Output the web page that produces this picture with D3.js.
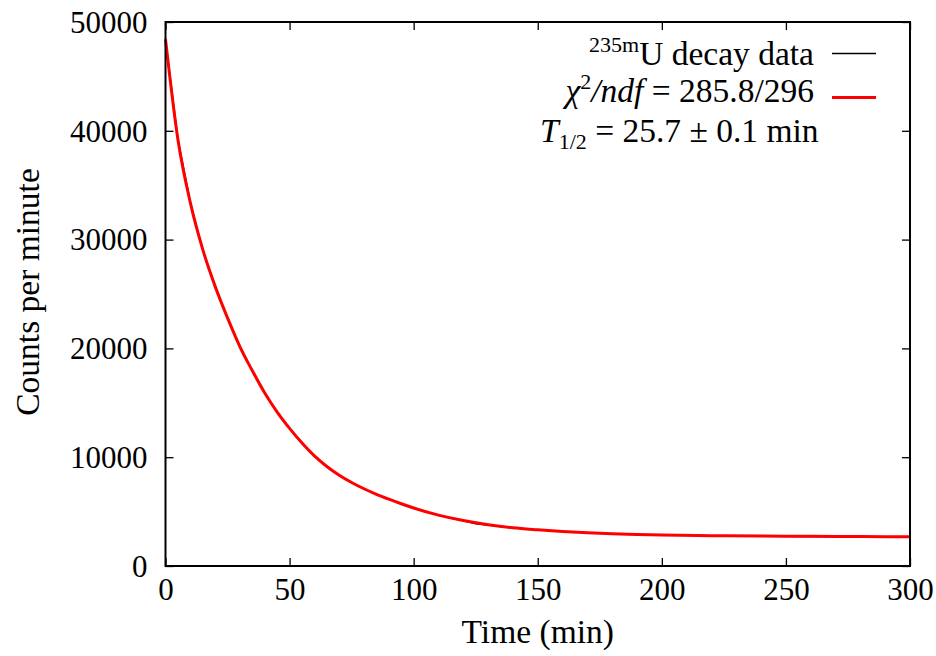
<!DOCTYPE html>
<html>
<head>
<meta charset="utf-8">
<script src="https://cdn.jsdelivr.net/npm/d3@7"></script>
</head>
<body style="margin:0">
<script>
// measured counts, one reading every 5 min
const timeMin = [0, 5, 10, 15, 20, 25, 30, 35, 40, 45, 50, 55, 60, 65, 70, 75, 80, 85, 90, 95,
  100, 105, 110, 115, 120, 125, 130, 135, 140, 145, 150, 155, 160, 165, 170, 175, 180, 185, 190, 195,
  200, 205, 210, 215, 220, 225, 230, 235, 240, 245, 250, 255, 260, 265, 270, 275, 280, 285, 290, 295, 300];
const dataCounts = [48500, 39300, 33500, 29050, 25800, 22700, 20250, 17900, 15850, 14200, 12650, 11350, 10100, 9200, 8330, 7700, 7080, 6620, 6120, 5730,
  5340, 4980, 4660, 4400, 4150, 3880, 3760, 3610, 3500, 3400, 3330, 3260, 3180, 3130, 3070, 3000, 2960, 2940, 2900, 2860,
  2850, 2830, 2810, 2790, 2800, 2770, 2760, 2740, 2750, 2720, 2730, 2700, 2720, 2700, 2710, 2690, 2700, 2680, 2690, 2670, 2680];

// fitted curve
const fitTime = [0, 5, 10, 15, 20, 25, 30, 35, 40, 45, 50, 55, 60, 65, 70, 75, 80, 85, 90, 95,
  100, 110, 120, 130, 140, 150, 160, 170, 180, 190, 200, 220, 240, 260, 280, 300];
const fitCounts = [48400, 39200, 33400, 29100, 25700, 22800, 20150, 17950, 15900, 14150, 12650, 11300, 10120, 9150, 8350, 7680, 7100, 6590, 6140, 5720,
  5330, 4680, 4180, 3800, 3510, 3330, 3180, 3060, 2960, 2900, 2850, 2790, 2755, 2730, 2705, 2680];

const xTicks = [0, 50, 100, 150, 200, 250, 300];
const yTicks = [0, 10000, 20000, 30000, 40000, 50000];

const W = 936, H = 656;
const mLeft = 165.5, mRight = 910, mTop = 22, mBottom = 566;
const fontFam = "'Liberation Serif', Tinos, 'Times New Roman', serif";
const tickFs = 31, labelFs = 33.5;

const svg = d3.select("body").append("svg")
  .attr("width", W).attr("height", H);

const x = d3.scaleLinear().domain([0, 300]).range([mLeft, mRight]);
const y = d3.scaleLinear().domain([0, 50000]).range([mBottom, mTop]);

// axes: ticks point inward, mirrored on top/right
const gx = svg.append("g").attr("transform", `translate(0,${mBottom})`)
  .call(d3.axisBottom(x).tickValues(xTicks).tickSize(-8).tickFormat(d3.format("d")));
gx.selectAll("text").attr("y", 34).attr("dy", 0);

const gy = svg.append("g").attr("transform", `translate(${mLeft},0)`)
  .call(d3.axisLeft(y).tickValues(yTicks).tickSize(-8).tickFormat(d3.format("d")));
gy.selectAll("text").attr("x", -18).attr("dy", "0.33em");

svg.append("g").attr("transform", `translate(0,${mTop})`)
  .call(d3.axisTop(x).tickValues(xTicks).tickSize(-8).tickFormat(""));
svg.append("g").attr("transform", `translate(${mRight},0)`)
  .call(d3.axisRight(y).tickValues(yTicks).tickSize(-8).tickFormat(""));

svg.selectAll("g").attr("font-family", null).attr("font-size", tickFs);
svg.selectAll(".tick text").attr("fill", "#000");
svg.selectAll(".domain").remove();
svg.selectAll(".tick line").attr("stroke", "#000").attr("stroke-width", 1.3);

// data and fit
const dataLine = d3.line().x((d, i) => x(timeMin[i])).y(d => y(d));
svg.append("path").datum(dataCounts)
  .attr("fill", "none").attr("stroke", "#000").attr("stroke-width", 1.2)
  .attr("d", dataLine);

const fitLine = d3.line().x((d, i) => x(fitTime[i])).y(d => y(d)).curve(d3.curveMonotoneX);
svg.append("path").datum(fitCounts)
  .attr("fill", "none").attr("stroke", "#ff0000").attr("stroke-width", 3)
  .attr("d", fitLine);

// frame
svg.append("rect")
  .attr("x", mLeft).attr("y", mTop)
  .attr("width", mRight - mLeft).attr("height", mBottom - mTop)
  .attr("fill", "none").attr("stroke", "#000").attr("stroke-width", 2);

// axis titles
svg.append("text")
  .attr("x", (mLeft + mRight) / 2).attr("y", 643)
  .attr("text-anchor", "middle").attr("font-size", labelFs)
  .text("Time (min)");

svg.append("text")
  .attr("transform", `translate(39,292) rotate(-90)`)
  .attr("text-anchor", "middle").attr("font-size", labelFs)
  .text("Counts per minute");

// key
const t1 = svg.append("text").attr("x", 814).attr("y", 65)
  .attr("text-anchor", "end").attr("font-size", labelFs);
t1.append("tspan").attr("dy", -13).attr("font-size", 22).text("235m");
t1.append("tspan").attr("dy", 13).text("U decay data");
svg.append("line").attr("x1", 832).attr("x2", 876).attr("y1", 53.5).attr("y2", 53.5)
  .attr("stroke", "#000").attr("stroke-width", 1.3);

const t2 = svg.append("text").attr("x", 814).attr("y", 102)
  .attr("text-anchor", "end").attr("font-size", labelFs);
t2.append("tspan").attr("font-style", "italic").text("χ");
t2.append("tspan").attr("dy", -13).attr("font-size", 22).text("2");
t2.append("tspan").attr("dy", 13).attr("font-style", "italic").text("/ndf");
t2.append("tspan").text(" = 285.8/296");
svg.append("line").attr("x1", 832).attr("x2", 876).attr("y1", 97.5).attr("y2", 97.5)
  .attr("stroke", "#ff0000").attr("stroke-width", 3);

const t3 = svg.append("text").attr("x", 540).attr("y", 142).attr("font-size", labelFs);
t3.append("tspan").attr("font-style", "italic").text("T");
t3.append("tspan").attr("dy", 7).attr("font-size", 22).text("1/2");
t3.append("tspan").attr("dy", -7).text(" = 25.7 ± 0.1 min");

svg.selectAll("text").style("font-family", fontFam);
</script>
</body>
</html>
